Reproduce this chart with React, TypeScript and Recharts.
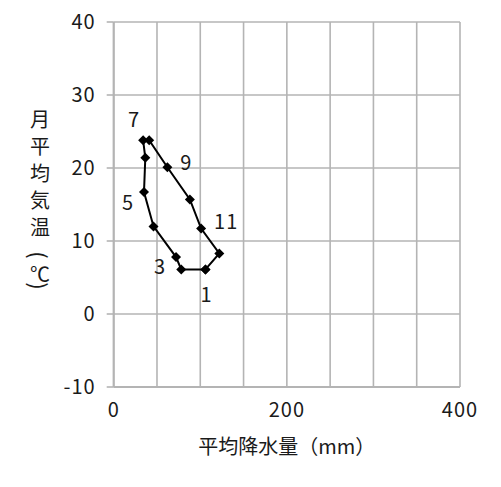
import React from "react";
import {
  ScatterChart,
  Scatter,
  XAxis,
  YAxis,
  CartesianGrid,
  LabelList,
  Label,
} from "recharts";

const months = [1, 2, 3, 4, 5, 6, 7, 8, 9, 10, 11, 12];
const precipitation = [106, 78, 72, 46, 35, 36.5, 34, 41, 62, 88, 101, 122];
const temperature = [6.1, 6.1, 7.8, 12.0, 16.7, 21.4, 23.8, 23.8, 20.1, 15.7, 11.7, 8.3];
const xTicks = [0, 50, 100, 150, 200, 250, 300, 350, 400];
const yTicks = [-10, 0, 10, 20, 30, 40];
const labeledMonths = [1, 3, 5, 7, 9, 11];
const xTitle = "平均降水量（mm）";
const yTitleChars = ["月", "平", "均", "気", "温", "(", "℃", ")"];

const FONT = "'Noto Sans CJK JP', 'Noto Sans', sans-serif";
const GRID = "#b4b4b4";
const TEXT = "#1a1a1a";

// label offsets (dx, dy) relative to the point, by month
const labelOffsets: Record<number, [number, number]> = {
  1: [1, 24],
  3: [-16, 8],
  5: [-16, 9],
  7: [-9, -22],
  9: [19, -6],
  11: [25, -8],
};

const points = months.map((m, i) => ({
  month: m,
  x: precipitation[i],
  y: temperature[i],
}));
// close the loop back to January
const loopData = [...points, { ...points[0], month: 0 }];

const Diamond = (props: any) => {
  const { cx, cy } = props;
  if (cx == null || cy == null) return null;
  const r = 5;
  return (
    <polygon
      points={`${cx},${cy - r} ${cx + r},${cy} ${cx},${cy + r} ${cx - r},${cy}`}
      fill="#000"
    />
  );
};

const MonthLabel = (props: any) => {
  const { x, y, width, height, value } = props;
  if (!labeledMonths.includes(value)) return null;
  const cx = x + (width || 0) / 2;
  const cy = y + (height || 0) / 2;
  const [dx, dy] = labelOffsets[value] || [0, 0];
  return (
    <text
      x={cx + dx}
      y={cy + dy}
      textAnchor="middle"
      dominantBaseline="central"
      fontSize={20}
      fontFamily={FONT}
      fill={TEXT}
      letterSpacing={1}
    >
      {value}
    </text>
  );
};

const YTitle = () => {
  const ys = [118, 145, 172, 199, 226, 255, 273, 286];
  return (
    <g>
      {yTitleChars.map((c, i) => {
        const cy = ys[i] - 8;
        const rotate = c === "(" || c === ")";
        return (
          <g key={i} transform={`translate(32 ${cy})${rotate ? " rotate(90)" : ""}`}>
            <text
              x={0}
              y={0}
              textAnchor="middle"
              dominantBaseline="central"
              fontSize={rotate ? 22 : 20}
              fontFamily={FONT}
              fill={TEXT}
            >
              {c}
            </text>
          </g>
        );
      })}
    </g>
  );
};

const XTitle = (props: any) => {
  const vb = props.viewBox || { x: 0, y: 0, width: 0, height: 0 };
  return (
    <text
      x={vb.x + vb.width / 2}
      y={437}
      textAnchor="middle"
      dominantBaseline="central"
      fontSize={20}
      fontFamily={FONT}
      fill={TEXT}
    >
      {xTitle}
    </text>
  );
};

export default function App() {
  return (
    <div style={{ width: 485, height: 471 }}>
      <ScatterChart
        width={485}
        height={471}
        margin={{ top: 14, right: 33, bottom: 0, left: 0 }}
      >
        <CartesianGrid stroke={GRID} strokeWidth={1.6} />
        <XAxis
          type="number"
          dataKey="x"
          domain={[0, 400]}
          ticks={xTicks}
          interval={0}
          tickFormatter={(v: number) => (v % 200 === 0 ? String(v) : "")}
          tickLine={false}
          tickSize={6}
          tickMargin={10}
          axisLine={{ stroke: GRID, strokeWidth: 2 }}
          height={92}
          tick={{ fontSize: 20, fontFamily: FONT, fill: TEXT, letterSpacing: 1 }}
        >
          <Label content={<XTitle />} />
        </XAxis>
        <YAxis
          type="number"
          dataKey="y"
          domain={[-10, 40]}
          ticks={yTicks}
          interval={0}
          width={105.7}
          tickSize={7}
          tickMargin={11}
          tickLine={{ stroke: GRID, strokeWidth: 1.6 }}
          axisLine={{ stroke: GRID, strokeWidth: 2 }}
          tick={{ fontSize: 20, fontFamily: FONT, fill: TEXT, letterSpacing: 1 }}
        >
          <Label content={<YTitle />} />
        </YAxis>
        <Scatter
          data={loopData}
          line={{ stroke: "#000", strokeWidth: 2 }}
          shape={<Diamond />}
          isAnimationActive={false}
        >
          <LabelList dataKey="month" content={<MonthLabel />} />
        </Scatter>
      </ScatterChart>
    </div>
  );
}
